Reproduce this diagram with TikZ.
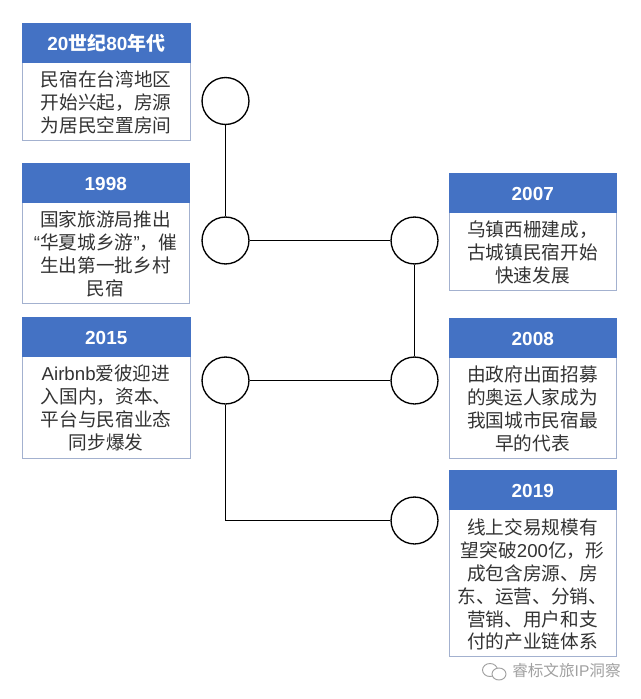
\documentclass[tikz,border=0pt]{standalone}
\usepackage{fontspec}
\setmainfont{Noto Sans CJK SC}
\newfontfamily\lat{Liberation Sans}
\definecolor{hdr}{HTML}{4472C4}
\definecolor{edge}{HTML}{A3B1CF}
\definecolor{ink}{HTML}{333333}
\definecolor{wm}{HTML}{A0A0A0}
\tikzset{
  x=0.75pt,y=-0.75pt,
  head/.style={fill=hdr,draw=hdr,line width=0.4pt,inner sep=0pt,minimum height=29.25pt,text=white,text height=12.9pt,text depth=1.6pt,font=\fontsize{14.2pt}{16pt}\selectfont\bfseries,anchor=north west},
  body/.style={draw=edge,line width=1pt,fill=white,inner sep=0pt,anchor=north west},
  txt/.style={align=center,text=ink,font=\fontsize{14pt}{17.2pt}\selectfont,inner sep=0pt},
  dot/.style={circle,draw=black,line width=1pt,fill=white,minimum size=35.2pt,inner sep=0pt},
  link/.style={draw=black,line width=1.1pt},
}
\newcommand{\la}[1]{{\lat #1}}
\newcommand{\lb}[1]{{\lat\bfseries #1}}
\begin{document}
\begin{tikzpicture}
\useasboundingbox (0,0) rectangle (640,699);
% bodies
\node[body,minimum width=126pt,minimum height=87.75pt] (b1) at (22,23) {};
\node[body,minimum width=125.25pt,minimum height=105pt] (b2) at (22,163) {};
\node[body,minimum width=126pt,minimum height=105.75pt] (b3) at (22,317) {};
\node[body,minimum width=125.25pt,minimum height=87.75pt] (b4) at (449,173) {};
\node[body,minimum width=125.25pt,minimum height=105pt] (b5) at (449,318) {};
\node[body,minimum width=125.25pt,minimum height=139.5pt] (b6) at (449,470) {};
% headers
\node[head,minimum width=126pt] (h1) at (22,23) {\lb{20}世纪\lb{80}年代};
\node[head,minimum width=125.25pt] (h2) at (22,163) {\lb{1998}};
\node[head,minimum width=126pt] (h3) at (22,317) {\lb{2015}};
\node[head,minimum width=125.25pt] (h4) at (449,173) {\lb{2007}};
\node[head,minimum width=125.25pt] (h5) at (449,318) {\lb{2008}};
\node[head,minimum width=125.25pt] (h6) at (449,470) {\lb{2019}};
% body text
\node[txt] (t1) at (106,102) {民宿在台湾地区\\开始兴起，房源\\为居民空置房间};
\node[txt] (t2) at (105.5,254) {国家旅游局推出\\\la{“}华夏城乡游\la{”}，催\\生出第一批乡村\\民宿};
\node[txt] (t3) at (106,408) {\la{Airbnb}爱彼迎进\\入国内，资本、\\平台与民宿业态\\同步爆发};
\node[txt] (t4) at (532.5,252) {乌镇西栅建成，\\古城镇民宿开始\\快速发展};
\node[txt] (t5) at (532.5,409) {由政府出面招募\\的奥运人家成为\\我国城市民宿最\\早的代表};
\node[txt] (t6) at (532.5,584.5) {线上交易规模有\\望突破\la{200}亿，形\\成包含房源、房\\东、运营、分销、\\营销、用户和支\\付的产业链体系};
% circles
\node[dot] (c1) at (225.5,101) {};
\node[dot] (c2) at (225.5,240.5) {};
\node[dot] (c3) at (414.5,240.5) {};
\node[dot] (c4) at (414.5,380.5) {};
\node[dot] (c5) at (225.5,380.5) {};
\node[dot] (c6) at (414.5,520.5) {};
% connectors
\draw[link] (c1) -- (c2);
\draw[link] (c2) -- (c3);
\draw[link] (c3) -- (c4);
\draw[link] (c5) -- (c4);
\draw[link] (c5) |- (c6);
% watermark
\draw[wm,line width=0.7pt] (490,670) ellipse [x radius=7.5,y radius=6.5];
\draw[wm,line width=0.7pt,fill=white] (499,674) ellipse [x radius=7,y radius=6];
\node[text=wm,font=\fontsize{11.7pt}{13pt}\selectfont,inner sep=0pt,anchor=west] (w) at (512,671) {睿标文旅\la{IP}洞察};
\end{tikzpicture}
\end{document}
